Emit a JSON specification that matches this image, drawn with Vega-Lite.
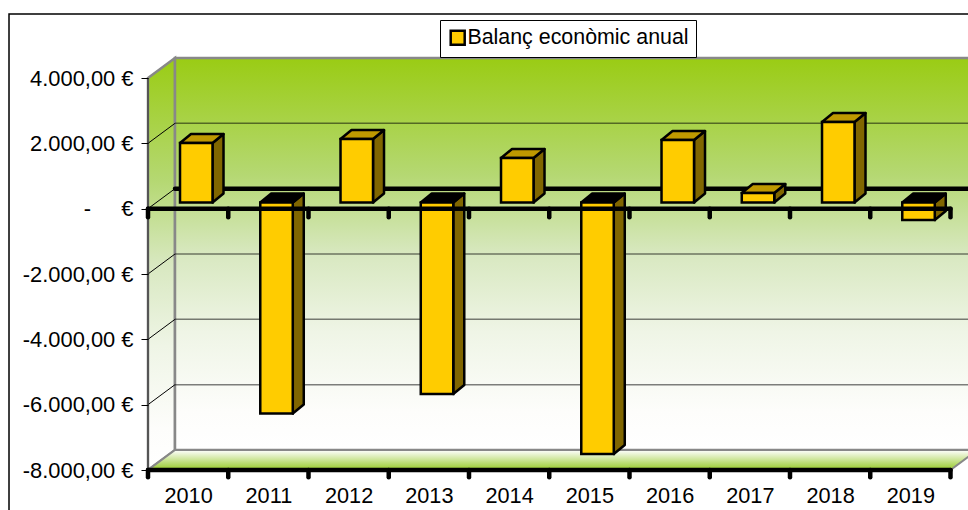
{
"$schema":"https://vega.github.io/schema/vega-lite/v6.json",
"width":968,"height":510,"padding":0,"autosize":{"type":"none"},"background":"white",
"config":{"view":{"stroke":null},"font":"Liberation Sans"},
"datasets":{
 "bars":[{"year":2010,"balance":1820},{"year":2011,"balance":-6460},{"year":2012,"balance":1945},{"year":2013,"balance":-5860},{"year":2014,"balance":1360},{"year":2015,"balance":-7700},{"year":2016,"balance":1915},{"year":2017,"balance":290},{"year":2018,"balance":2465},{"year":2019,"balance":-535}],
 "depth":[{"d":0},{"d":1}],
 "levels":[{"v":4000},{"v":2000},{"v":0},{"v":-2000},{"v":-4000},{"v":-6000},{"v":-8000}],
 "bounds":[{"b":2009.5},{"b":2010.5},{"b":2011.5},{"b":2012.5},{"b":2013.5},{"b":2014.5},{"b":2015.5},{"b":2016.5},{"b":2017.5},{"b":2018.5},{"b":2019.5}]
},
"layer":[
 {"data":{"values":[{}]},"mark":{"type":"rect","fill":"transparent","stroke":"black","strokeWidth":1.5},
  "encoding":{
   "x":{"datum":2007.768,"type":"quantitative","scale":{"domain":[2007.6558,2019.7181],"nice":false,"zero":false},
     "axis":{"zindex":1,"values":[2010,2011,2012,2013,2014,2015,2016,2017,2018,2019],"format":"d","title":null,"ticks":false,"domain":false,"grid":false,"offset":-27,"labelPadding":2,"labelFont":"Liberation Sans","labelFontSize":21.7,"labelColor":"black","labelFlush":false,"labelOverlap":false}},
   "x2":{"datum":2025},
   "y":{"datum":5959,"type":"quantitative","scale":{"domain":[-9224.4,6387.8],"nice":false,"zero":false},
     "axis":{"zindex":1,"values":[4000,2000,0,-2000,-4000,-6000,-8000],"title":null,"domain":false,"grid":false,"tickSize":7,"tickColor":"black","tickWidth":1,"offset":-148,"labelPadding":8,"labelFont":"Liberation Sans","labelFontSize":21.9,"labelColor":"black","labelFlush":false,"labelOverlap":false,
      "labelExpr":"datum.value==0 ? '-\u00a0\u00a0\u00a0\u00a0 €' : replace(replace(replace(replace(format(datum.value,',.2f'),',','#'),'.',','),'#','.'),'\u2212','-')+' €'"}},
   "y2":{"datum":-12000}}},
 {"data":{"name":"depth"},
  "transform":[{"calculate":"2009.5+datum.d*0.3364","as":"x"},{"calculate":"4000+datum.d*612","as":"top"},{"calculate":"-8000+datum.d*612","as":"bottom"}],
  "mark":{"type":"area","stroke":"#888888","strokeWidth":2.5,"fill":{"gradient":"linear","x1":0,"y1":0,"x2":0,"y2":1,"stops":[{"offset":0,"color":"#9ACC14"},{"offset":0.3,"color":"#B5D873"},{"offset":0.5,"color":"#D8E8C0"},{"offset":0.7,"color":"#EFF5E6"},{"offset":0.9,"color":"#FDFDFB"},{"offset":1,"color":"#FFFFFF"}]}},
  "encoding":{"x":{"field":"x","type":"quantitative","stack":null},"y":{"field":"top","type":"quantitative","stack":null},"y2":{"field":"bottom"}}},
 {"data":{"values":[{}]},
  "mark":{"type":"rect","stroke":"#888888","strokeWidth":2.5,"fill":{"gradient":"linear","x1":0,"y1":0,"x2":0,"y2":1,"stops":[{"offset":0,"color":"#9ACC14"},{"offset":0.3,"color":"#B5D873"},{"offset":0.5,"color":"#D8E8C0"},{"offset":0.7,"color":"#EFF5E6"},{"offset":0.9,"color":"#FDFDFB"},{"offset":1,"color":"#FFFFFF"}]}},
  "encoding":{"x":{"datum":2009.8364,"type":"quantitative"},"x2":{"datum":2025},"y":{"datum":4612,"type":"quantitative"},"y2":{"datum":-7388}}},
 {"data":{"name":"depth"},
  "transform":[{"calculate":"2009.5+datum.d*0.3364","as":"xl"},{"calculate":"2019.5+datum.d*0.3364","as":"xr"},{"calculate":"-8000+datum.d*612","as":"yy"}],
  "mark":{"type":"area","orient":"horizontal","stroke":"#888888","strokeWidth":2,"fill":{"gradient":"linear","x1":0,"y1":1,"x2":0,"y2":0,"stops":[{"offset":0,"color":"#96CA28"},{"offset":1,"color":"#FFFFFF"}]}},
  "encoding":{"y":{"field":"yy","type":"quantitative","stack":null},"x":{"field":"xl","type":"quantitative","stack":null},"x2":{"field":"xr"}}},
 {"data":{"name":"levels"},"transform":[{"filter":"datum.v!=0 && datum.v!=4000 && datum.v!=-8000"},{"calculate":"datum.v+612","as":"yb"}],
  "mark":{"type":"rule","color":"#000000","opacity":0.5,"strokeWidth":1.5},
  "encoding":{"x":{"datum":2009.8364,"type":"quantitative"},"x2":{"datum":2025},"y":{"field":"yb","type":"quantitative"}}},
 {"data":{"name":"levels"},"transform":[{"filter":"datum.v!=4000 && datum.v!=-8000"},{"calculate":"datum.v+612","as":"yb"}],
  "mark":{"type":"rule","color":"black","strokeWidth":1},
  "encoding":{"x":{"datum":2009.5,"type":"quantitative"},"x2":{"datum":2009.8364},"y":{"field":"v","type":"quantitative"},"y2":{"field":"yb"}}},
 {"data":{"values":[{"level":612}]},
  "mark":{"type":"rule","color":"black","strokeWidth":4.5,"strokeCap":"round"},
  "encoding":{"x":{"datum":2009.8364,"type":"quantitative"},"x2":{"datum":2025},"y":{"field":"level","type":"quantitative"}}},
 {"data":{"values":[{}]},"mark":{"type":"rule","color":"#444444","strokeWidth":1.5},
  "encoding":{"x":{"datum":2009.5,"type":"quantitative"},"y":{"datum":4000,"type":"quantitative"},"y2":{"datum":-8000}}},
 {"data":{"name":"bars"},
  "transform":[{"calculate":"datum.year+0.304","as":"x1"},{"calculate":"max(datum.balance,0)+189","as":"hi"},{"calculate":"min(datum.balance,0)+189","as":"lo"},{"calculate":"[0,1]","as":"t"},{"flatten":["t"]},{"calculate":"datum.x1+datum.t*0.137","as":"xs"},{"calculate":"datum.hi+datum.t*275","as":"ys"},{"calculate":"datum.lo+datum.t*275","as":"ys2"}],
  "mark":{"type":"area","fill":"#806600","stroke":"black","strokeWidth":2.5,"strokeJoin":"round"},
  "encoding":{"detail":{"field":"year"},"x":{"field":"xs","type":"quantitative","stack":null},"y":{"field":"ys","type":"quantitative","stack":null},"y2":{"field":"ys2"}}},
 {"data":{"name":"bars"},
  "transform":[{"calculate":"datum.year-0.101","as":"x0"},{"calculate":"datum.year+0.304","as":"x1"},{"calculate":"max(datum.balance,0)+189","as":"hi"},{"calculate":"[0,1]","as":"t"},{"flatten":["t"]},{"calculate":"datum.x0+datum.t*0.137","as":"xa"},{"calculate":"datum.x1+datum.t*0.137","as":"xb"},{"calculate":"datum.hi+datum.t*275","as":"yt"}],
  "mark":{"type":"area","orient":"horizontal","stroke":"black","strokeWidth":2.5,"strokeJoin":"round"},
  "encoding":{"detail":{"field":"year"},"fill":{"condition":{"test":"datum.balance<0","value":"#000000"},"value":"#BF9900"},"y":{"field":"yt","type":"quantitative","stack":null},"x":{"field":"xa","type":"quantitative","stack":null},"x2":{"field":"xb"}}},
 {"data":{"name":"bars"},
  "transform":[{"calculate":"datum.year-0.101","as":"x0"},{"calculate":"datum.year+0.304","as":"x1"},{"calculate":"datum.balance+189","as":"end"},{"calculate":"189","as":"base"}],
  "mark":{"type":"rect","stroke":"black","strokeWidth":2.5},
  "encoding":{"x":{"field":"x0","type":"quantitative"},"x2":{"field":"x1"},"y":{"field":"end","type":"quantitative"},"y2":{"field":"base"},
   "color":{"datum":"Balanç econòmic anual","scale":{"range":["#FFCC00"]},
    "legend":{"orient":"none","legendX":440,"legendY":20,"title":null,"fillColor":"white","strokeColor":"black","padding":7,"symbolType":"square","symbolSize":196,"symbolStrokeColor":"black","symbolStrokeWidth":2.5,"symbolOpacity":1,"labelFont":"Liberation Sans","labelFontSize":21.4,"labelColor":"black","labelLimit":300,"labelOffset":-1}}}},
 {"data":{"name":"levels"},"transform":[{"filter":"datum.v==0 || datum.v==-8000"}],
  "mark":{"type":"rule","color":"black","strokeWidth":4.5,"strokeCap":"round"},
  "encoding":{"x":{"datum":2009.5,"type":"quantitative"},"x2":{"datum":2019.5},"y":{"field":"v","type":"quantitative"}}},
 {"data":{"name":"bounds"},"transform":[{"calculate":"0","as":"y0"},{"calculate":"-260","as":"y1"}],
  "mark":{"type":"rule","color":"black","strokeWidth":4.5,"strokeCap":"round"},
  "encoding":{"x":{"field":"b","type":"quantitative"},"y":{"field":"y0","type":"quantitative"},"y2":{"field":"y1"}}},
 {"data":{"name":"bounds"},"transform":[{"calculate":"-8000","as":"y0"},{"calculate":"-8220","as":"y1"}],
  "mark":{"type":"rule","color":"black","strokeWidth":4.5,"strokeCap":"round"},
  "encoding":{"x":{"field":"b","type":"quantitative"},"y":{"field":"y0","type":"quantitative"},"y2":{"field":"y1"}}}
]
}
